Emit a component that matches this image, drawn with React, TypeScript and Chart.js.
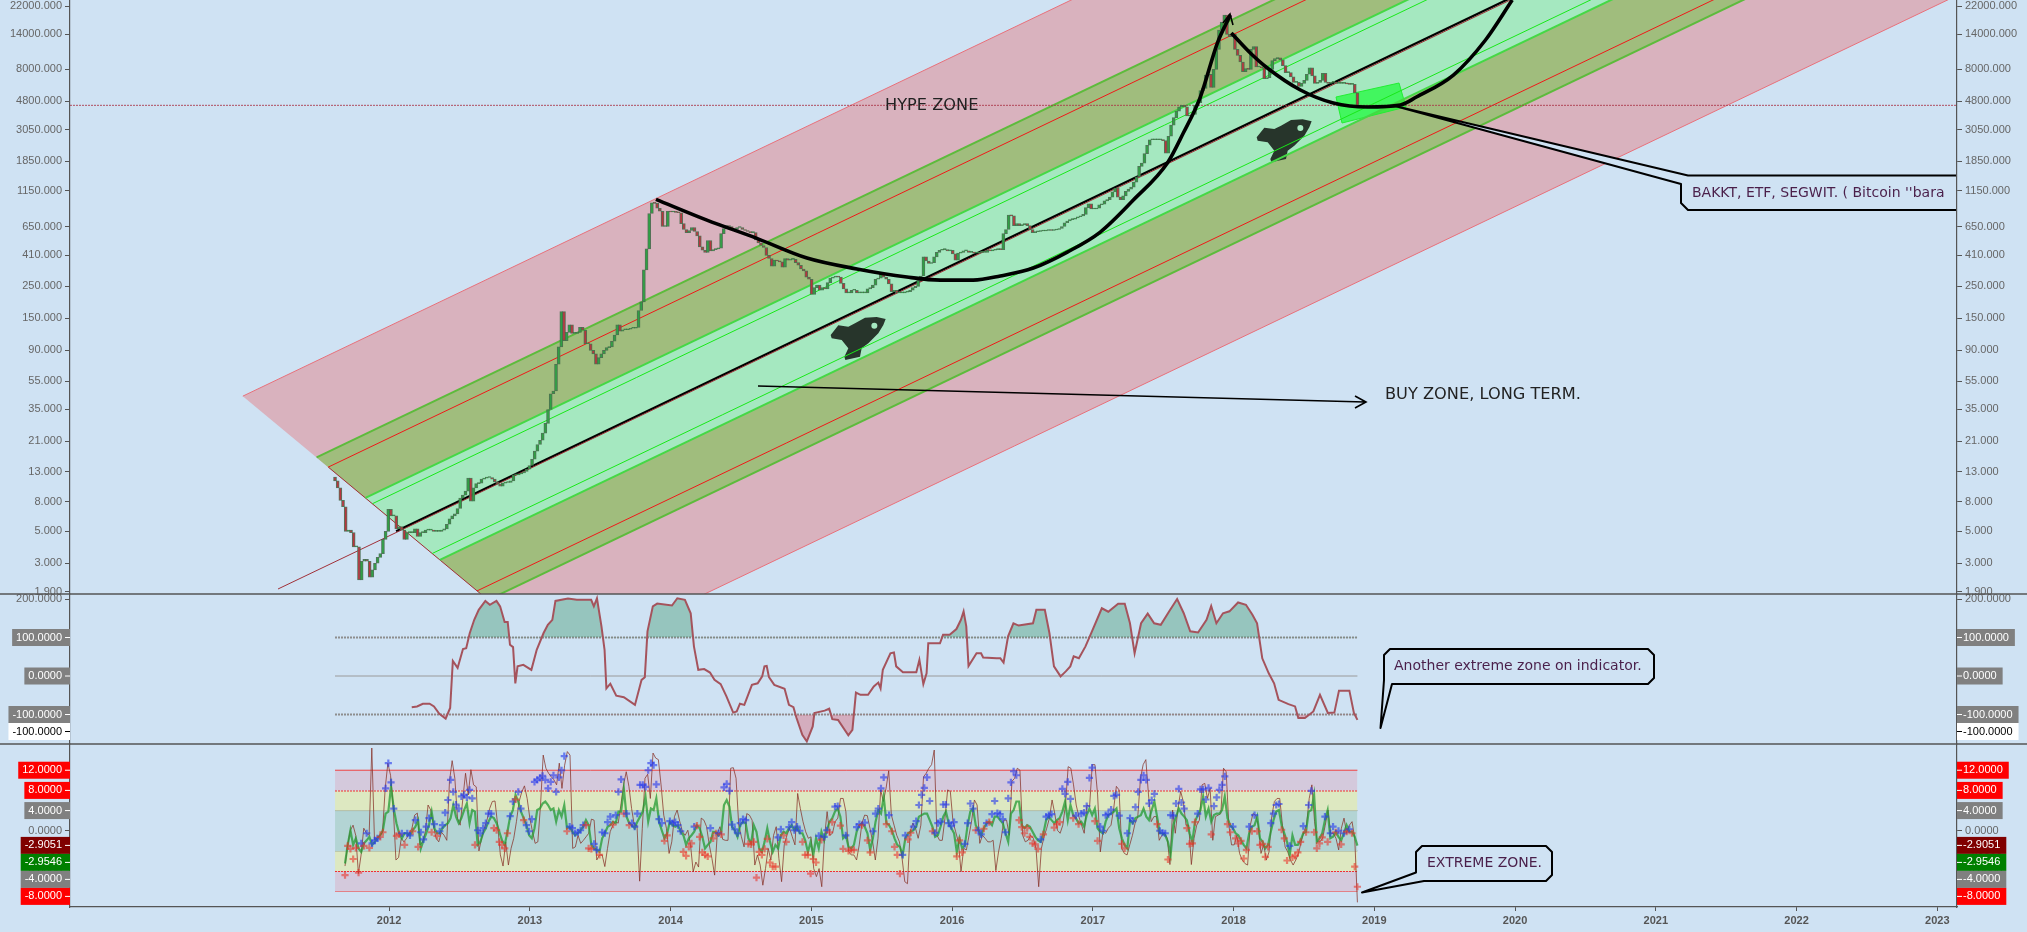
import React, { useEffect, useRef } from "react";
import { Chart, registerables } from "chart.js";
Chart.register(...registerables);

const YEAR_TICKS = [2012, 2013, 2014, 2015, 2016, 2017, 2018, 2019, 2020, 2021, 2022, 2023];
const PRICE_TICKS = [22000, 14000, 8000, 4800, 3050, 1850, 1150, 650, 410, 250, 150, 90, 55, 35, 21, 13, 8, 5, 3, 1.9];
const CCI_TICKS = [200, 100, 0, -100];
const OSC_TICKS = [12, 8, 4, 0, -4, -8];

const SERIES_END = 2018.88;
const CANDLE_START = 2011.616;
const OSC_START = 2011.687;
const FIRST_OPEN = 11.9;

const CLOSES = [
  11.2,10,8.2,7.4,5,5.1,4.9,3.9,3.9,2.3,3.1,3.2,3.1,2.4,2.7,3,3.3,3.5,4.4,5,7.1,6.4,6.4,5.2,5.4,5.1,4.4,4.9,4.9,4.9,5.2,4.6,4.9,4.9,5.1,5.1,5.1,5,5,5,5.1,5.2,5.6,6.1,6.4,6.6,7.2,8.5,8.9,9.5,11.7,8.1,10,10.7,10.8,11.5,11.7,11.8,11.8,11.5,11,10.6,10.3,10.8,10.9,10.9,11.2,12.3,12.3,12.5,12.7,13,13.5,14.3,15.8,18,20,21.4,24,28,
  35,45,47,72,95,167,105,120,135,118,118,120,130,124,100,100,90,85,72,80,85,90,94,95,104,115,135,122,125,125,126,128,128,130,170,195,325,455,800,950,940,870,830,650,650,830,820,820,815,810,680,620,590,610,640,600,560,470,445,430,520,440,450,455,460,580,630,660,650,620,620,640,640,620,610,600,590,590,525,500,480,465,410,390,345,380,375,370,340,390,380,385,385,365,350,330,320,290,280,220,245,255,235,245,240,265,285,290,295,290,262,240,225,225,235,235,225,225,225,225,240,245,255,280,285,305,290,280,260,230,235,225,225,225,228,230,235,245,250,275,295,400,375,360,365,400,430,445,450,450,440,445,420,380,425,430,440,440,430,430,425,425,430,430,430,445,440,445,450,455,450,580,620,780,770,660,680,660,670,680,660,620,590,
  598,600,605,605,610,615,610,615,620,630,650,690,710,725,730,745,760,770,790,880,935,860,860,870,920,930,980,1000,1040,1130,1200,1040,1000,1060,1140,1180,1220,1320,1440,1700,1790,2080,2380,2600,2600,2600,2600,2600,2560,2100,2750,3280,3700,4100,4400,4500,4400,3800,3800,3900,4500,4700,5700,5900,7300,7400,6000,8000,11000,15000,17000,19000,14000,13500,14000,11000,10000,9000,7700,8100,8000,11000,11500,8300,8300,8200,6900,7000,8000,9200,9500,9600,9300,8500,7600,7600,7100,6500,6500,6100,6400,6700,7400,8200,7200,6400,6500,6700,7500,6500,6400,6500,6500,6400,6400,6400,6400,6350,6300,6300,5500,4500,
];

const CCI_YEARS = [
  2012.161,2012.199,2012.24,2012.288,2012.319,2012.357,2012.402,2012.434,2012.453,2012.487,2012.525,2012.548,2012.573,2012.605,2012.637,2012.684,2012.716,2012.763,2012.789,2012.821,2012.843,2012.859,2012.881,2012.897,2012.913,2012.954,2013.011,2013.049,2013.097,2013.128,2013.16,2013.182,2013.271,2013.334,2013.436,2013.455,2013.477,2013.509,2013.531,2013.544,2013.572,2013.614,2013.668,2013.747,2013.794,2013.817,2013.836,2013.874,2013.905,2014.01,2014.048,2014.102,2014.143,2014.166,2014.197,2014.239,2014.28,2014.312,2014.356,2014.397,2014.445,2014.47,2014.493,2014.524,2014.578,2014.619,2014.651,2014.667,2014.683,2014.699,2014.737,2014.81,2014.841,2014.873,2014.895,2014.936,2014.968,2015.01,2015.022,2015.095,2015.127,2015.149,2015.19,2015.263,2015.292,2015.317,2015.349,2015.403,2015.444,2015.476,2015.492,2015.508,2015.562,2015.587,2015.603,2015.651,2015.746,2015.768,2015.796,2015.819,2015.831,2015.914,2015.936,2015.983,2016.031,2016.063,2016.082,2016.101,2016.117,2016.174,2016.206,2016.221,2016.317,
  2016.343,2016.366,2016.398,2016.436,2016.473,2016.575,2016.599,2016.659,2016.692,2016.724,2016.771,2016.808,2016.84,2016.864,2016.901,2016.948,2016.994,2017.064,2017.11,2017.18,2017.227,2017.264,2017.297,2017.343,2017.39,2017.436,2017.483,2017.543,2017.599,2017.646,2017.692,2017.748,2017.808,2017.841,2017.878,2017.925,2017.971,2018.032,2018.088,2018.134,2018.167,2018.204,2018.25,2018.288,2018.32,2018.39,2018.437,2018.46,2018.507,2018.567,2018.614,2018.67,2018.716,2018.749,2018.823,2018.855,2018.88,
];
const CCI_VALUES = [
  -81,-79,-72,-72,-79,-98,-111,-83,39,21,70,72,111,146,172,195,185,195,181,140,140,81,75,-19,25,29,16,68,111,133,146,195,201,198,198,181,202,129,68,-32,-20,-51,-55,-75,-10,-3,116,181,188,183,202,198,163,77,16,18,9,-10,-21,-53,-95,-92,-72,-75,-23,-19,-1,25,26,-3,-23,-33,-75,-81,-109,-153,-170,-131,-96,-90,-85,-112,-114,-154,-140,-43,-49,-49,-27,-17,-32,16,59,61,25,10,10,42,-21,7,85,85,107,107,122,146,168,129,26,59,59,48,46,
  46,35,103,137,131,137,172,172,111,25,-1,12,25,51,46,77,116,176,167,188,188,137,59,137,162,137,133,168,200,163,116,113,146,182,137,163,168,191,185,159,137,46,7,-19,-62,-73,-79,-109,-109,-92,-49,-96,-95,-38,-38,-96,-114,
];

const OSC_FAST = [
  -7,-2.8,.1,1.1,-.9,-8.5,-4.8,.5,-.5,-.9,16.4,-1.8,-1.4,-1,-.3,8.4,13.4,11,4.8,-5.8,-5.3,-1.5,-2.2,-1.5,-.5,.5,3.1,3.5,-2.8,-2.2,-.2,5.1,4.1,1.1,-1.5,-2.2,-.3,-.9,-1.9,9.8,13.9,10.4,2.5,1.1,6.4,11.4,7.1,12.1,9.1,8.7,-4,-1.5,.5,2.1,4.4,5.8,5.9,1.1,-4.8,-7,
  -2.2,-6.8,-3.5,-1.5,1.8,5.8,7.7,8.9,6.4,2.5,-.2,-2.5,-2.2,5.1,15,12.4,11.4,10.7,10.1,9.1,13.4,8.4,13,15.7,15,-3.5,-3.2,-.9,-2.5,-1.9,-1.2,-.5,2.3,2.1,-5.8,-4.8,-4.8,-7.1,-3.5,-.2,1.1,1.8,1.5,5.1,9.1,11.7,8.8,4.4,1.1,1.1,-10,.5,10.4,11.2,6.4,15.4,14.4,14.1,9.1,3.1,.5,-4.5,-2.2,2.8,4.1,1.8,
  -.2,-.9,.1,-2.8,-8.1,-6.2,-7.2,2.5,2.1,.8,-2.8,-5.5,-8.8,-.5,.8,-1.7,-1.9,-1.9,12.4,12.5,10.4,1.1,-1.2,-3.2,3.4,3.1,2.1,-6.8,-4.8,-6.8,-10.8,-7.5,-3.5,-5.8,-.9,.8,-5.5,-10.1,-2.8,-.9,.5,-1.2,-2.8,7.4,4.4,1.8,-.2,-1.5,-1.2,-7.5,-9.1,-7.5,-11.1,-1.5,3.8,-.9,-.5,1.8,2.5,6.4,6.4,3.8,-4.1,-4.8,
  -4.8,-5.8,-2.8,1.5,3.1,3,.5,-2.2,-5.8,-1.5,8.1,5.8,8.4,11.9,3.1,1.1,-.9,-2.2,-5.5,-10.1,-10.5,-.2,1.5,.5,-1.5,1.1,10.7,11.4,12.4,13.1,16,-.9,-1.9,-1.9,2.5,8.1,7.8,1.8,-.2,-2.2,-8.1,-3.5,-3.8,-.9,2.1,6.1,5.1,-2.5,-.9,-1.5,-2.2,-2.2,-1.9,-7.9,-4.2,-1.5,2.1,2.1,-.9,9.8,10.4,12.4,
  12,-.9,-2.2,-1.9,-.9,-1.5,-3.5,-11.1,-3.5,-1.2,.5,2.5,6.1,3.4,.1,-.5,1.1,5.1,12.7,12.4,9.1,5.1,2.8,1.1,-.5,5.1,4.8,13.1,13.1,7.1,-4.2,-.2,-.5,.5,1.1,4.4,8.8,8.1,-3.5,-4.5,-4.8,-2.8,-.9,1.5,2.8,10.4,13.1,14.1,7.1,1.8,2.8,2.8,-1.9,-.9,-.5,-1.5,-6.7,4.1,-.5,4.4,7.8,5.8,1.1,
  1.1,-6.7,-1.5,1.1,2.1,9.1,9.4,6.4,8.4,-1.9,2.8,3.1,3.4,12.4,11.7,1.1,-2.8,-2.8,-.9,-4.5,-5.8,-6.5,-6.8,1.1,3.4,3.1,1.1,-4.5,-2.8,-5.8,-4.2,2.8,5.8,6.4,6.4,1.1,-3.2,-4.2,-5.8,-6.8,-5.8,-4.5,-2.2,-.2,1.1,6.4,9.1,1.8,-2.2,-2.2,-1.5,1.1,4.1,-.5,-.5,-1.5,-3.8,.5,2.5,-.5,1.1,1.8,-1.5,-14.2,
];

const OSC_SLOW = [
  -6.5,-2.8,.1,-2.8,-1.5,-3.5,-4.2,-2.5,-1.9,-1.2,-2.8,-2.2,-1.5,-.9,.1,3.4,3.8,8.8,4.4,1.5,-.5,-1.5,-.5,-.5,-.9,.1,.8,2.1,-3.5,-1.9,-.5,1.1,3.8,.5,-.5,-.5,.5,1.1,1.5,2.5,5.1,2.8,1.5,2.5,4.1,5.4,1.5,4.1,3.8,-2.8,-2.2,-.5,.5,1.8,2.8,2.5,1.5,-.2,-1.9,-2.8,
  -.2,2.8,4.1,7.1,5.8,3.8,2.5,1.1,-.9,-1.5,.5,4.1,4.4,5.4,5.8,5.1,4.1,4.4,1.8,4.1,2.8,5.1,.5,.8,-.2,-.9,-.5,.1,.8,2.1,1.1,-2.8,-3.5,-3.8,-4.2,-1.5,-.5,.8,1.1,1.8,1.5,3.8,3.8,8.4,2.8,1.5,1.1,.5,1.8,2.8,3.8,6.8,1.8,4.4,4.1,6.4,1.8,.1,-1.5,-.5,1.8,1.1,.8,
  1.1,-.2,-.9,-2.8,-1.5,-.9,-.2,1.1,.5,-1.2,-3.5,-2.8,-2.2,-.2,-.3,-.9,-.2,5.1,6.1,4.8,.8,.1,-1.2,1.1,1.8,1.5,-1.5,-2.5,1.1,-.2,-3.5,-4.2,-2.2,.5,-2.2,-4.2,-2.8,-3.5,-.9,-.2,-.5,.5,1.1,.1,.8,-.5,-.5,-1.9,-4.2,-2.2,-4.8,-1.5,-3.5,-.2,-1.9,.1,1.8,2.5,3.8,4.4,2.8,-1.5,-.9,
  -3.2,-3.5,-2.8,-.2,1.1,1.5,.8,-.5,-3.8,-1.5,1.8,4.1,3.4,6.8,1.5,1.1,.1,-1.5,-2.8,-3.2,-4.8,-1.5,-.5,-.2,.1,.8,2.8,3.1,3.4,3.4,2.1,.8,-1.2,-.9,.8,2.8,3.8,1.5,.5,-.5,-4.2,-1.5,-3.5,-2.8,1.1,3.8,4.4,1.1,.1,-.9,.5,1.5,1.8,1.1,2.8,2.8,2.1,1.5,-.5,-2.2,3.4,4.1,
  5.8,5.8,1.1,.5,1.1,.8,-.2,-1.2,-1.9,-2.2,-.5,2.1,2.8,2.1,1.5,2.1,2.5,3.8,5.8,2.1,5.1,3.1,2.5,1.5,1.8,.8,3.1,4.4,3.1,4.4,.5,-.2,-.5,1.8,3.1,3.4,3.8,4.4,.5,-1.5,-2.8,-3.5,2.1,1.5,2.5,2.8,3.1,4.4,2.8,2.1,4.1,5.8,2.8,-.5,-.5,-.9,-2.2,-4.8,1.1,2.8,4.4,3.4,2.8,
  2.1,-.5,-2.2,1.8,3.1,4.1,6.8,2.8,4.4,1.8,3.1,3.4,3.4,4.1,6.8,2.5,1.1,.5,-.5,-.9,-1.9,-2.8,-3.5,-.5,.8,1.1,2.8,-1.5,-2.2,-3.5,-2.8,-.2,2.1,3.8,4.1,1.1,-.5,-2.2,-4.8,-.9,-2.8,-2.8,-1.9,-.5,-.2,3.8,4.1,7.1,-2.2,-1.5,-.5,2.1,4.1,-1.5,-1.2,-.2,-1.2,-1.9,-.5,1.1,-.2,-.2,-1.2,-2.95,
];

const OSC_SIGNAL = [
  -8.8,-3,-3.6,-5.6,-3.4,-8.3,-2.5,-3,-.5,-3.4,-2.5,-1.9,-1.5,-1.2,-.3,8.4,13.4,9.6,4.4,-1,-.7,-.5,-2.8,-.5,-.9,-.1,2.1,-3.2,-.3,-1.7,.8,2.5,-.3,1.3,-1,-.1,1.1,3.6,6.1,10.1,7.7,5.2,4.4,6.8,7.1,6.6,8.1,6.4,-2.8,.1,-.5,.5,1.5,3.4,3.4,.5,.1,-2.2,-2.8,-3.5,
  -.5,2.9,5.8,6.2,7.7,4.4,2.1,1.1,-.1,2.3,9.7,10.1,10.5,10.9,10.1,8.4,9.7,11,7.7,10.6,12,14.8,-.1,.8,.5,-.5,-.3,.1,1.1,1.1,-3.5,-3.6,-2.6,-3.8,-4.8,-.3,-.5,1.7,2.8,1.2,3.1,7.7,10.2,3.4,3.4,1.1,1.5,.8,3.4,9.1,9.1,8.7,12,13.4,13,9.2,2.3,1.5,-2,-.9,1.9,1.5,1.7,
  1.1,-.1,-4.2,-5,-3.2,-2.5,.8,1,-1.2,-4.3,-4.8,-5.1,.5,-1.5,-.5,-.5,-.7,8.6,9.3,7.9,1.2,.3,-.5,1.5,2.3,2.1,-2.6,-2.7,-2.2,-9.3,-4.2,-4.8,-3.6,-1.6,-6.3,-7.1,-7.1,-1.3,.3,-.9,-2.2,.7,1.7,.1,.8,0,-2.2,-4.8,-4.8,-8.5,-5.6,-6.3,-1,-1.8,-1.2,.1,-.3,1.7,4.8,4.9,1,-3.6,-.9,
  -4,-3.8,-3.8,.7,1.3,1.1,1.6,-1.9,-4.3,-.1,3.4,4.4,8.4,10.6,1.3,3.1,-.1,-3.2,-4.8,-8.5,-4.8,-.9,-1.7,-.4,.8,1.9,5.1,7.1,8.5,10.6,5.9,-.1,-.4,1.5,1.8,5.2,5.2,1.5,.9,1.7,-5.1,-1.9,-4.3,-2.6,1.5,5.4,4.4,.1,.1,-.7,.4,1.5,1.7,3.3,5.9,3.5,3.3,2.3,-.3,6.4,9.6,11.8,
  11,2.1,.7,-.5,.5,-1.2,-2.5,-2.7,-3.6,-1.7,-.7,2.8,3.1,3.3,.6,1.3,1.7,8.3,7.3,9.7,6.3,2.5,3,1.3,3.4,3.6,4.9,10.5,12.5,1.9,-2,.8,0,3.1,3.3,4.2,6.9,7.1,3,-2.6,-3.5,-.5,2.5,1.9,4.7,7.7,10.1,11,10.1,5.4,6.1,7.3,1.3,0,-.4,-.5,-5.7,3.1,3,5.4,8.3,5.6,4.4,
  .5,-2.6,-2.5,1.7,3.4,8.2,8.2,6.2,8.5,-.7,4.9,6.6,8.1,9.1,10.8,1.3,-.3,.8,-1.5,-2.5,-2,-5.5,-3.8,.8,-.1,3.1,-.1,-2.8,-2.6,-5.2,-3.2,1.5,3.4,5.1,5.3,.2,-1.5,-5.9,-3,-5.3,-5,-4.3,-2.2,.9,-.3,5.1,7.9,-.3,-3.5,-2.5,-1.3,2.8,-2.2,-.5,.8,-.3,0,-2.7,-.5,-.2,.3,-.5,-7.1,-11.1,
];

const EDGE_OUTER_UP = [{ x: 2010.961, y: 43.3 }, { x: 2017.144, y: 33330 }];
const EDGE_GREEN_UP = [{ x: 2011.485, y: 16.28 }, { x: 2018.58, y: 33330 }];
const EDGE_RED_UP = [{ x: 2011.568, y: 13.94 }, { x: 2018.807, y: 33330 }];
const EDGE_MINT_UP = [{ x: 2011.832, y: 8.53 }, { x: 2019.53, y: 33330 }];
const EDGE_THIN_UP = [{ x: 2011.882, y: 7.77 }, { x: 2019.667, y: 33330 }];
const EDGE_BASE = [{ x: 2011.211, y: 1.99 }, { x: 2020.264, y: 33330 }];
const EDGE_THIN_DOWN = [{ x: 2012.307, y: 3.51 }, { x: 2020.833, y: 33330 }];
const EDGE_MINT_DOWN = [{ x: 2012.361, y: 3.17 }, { x: 2020.979, y: 33330 }];
const EDGE_RED_DOWN = [{ x: 2012.625, y: 1.93 }, { x: 2021.704, y: 33330 }];
const EDGE_GREEN_DOWN = [{ x: 2012.703, y: 1.67 }, { x: 2021.918, y: 33330 }];
const EDGE_OUTER_DOWN = [{ x: 2013.233, y: 0.621 }, { x: 2023.37, y: 33330 }];
const TREND_LINE = [{ x: 2012.05, y: 5.01 }, { x: 2020.236, y: 33330 }];
const LEFT_BOUNDARY = [{ x: 2011.568, y: 13.94 }, { x: 2012.703, y: 1.67 }];
const PRICE_LEVEL = 4504;
const AXIS_YEAR_MIN = 2009.733;
const AXIS_YEAR_MAX = 2023.14;

const CUP_ONE = [
  { x: 2013.896, y: 1003 }, { x: 2014.258, y: 720 }, { x: 2014.613, y: 538 }, { x: 2014.969, y: 393 }, { x: 2015.324, y: 330 }, { x: 2015.679, y: 290 },
  { x: 2015.916, y: 276 }, { x: 2016.151, y: 276 }, { x: 2016.343, y: 295 }, { x: 2016.577, y: 335 }, { x: 2016.819, y: 432 }, { x: 2017.053, y: 595 },
  { x: 2017.288, y: 992 }, { x: 2017.53, y: 1792 }, { x: 2017.643, y: 2892 }, { x: 2017.764, y: 5141 }, { x: 2017.885, y: 12180 }, { x: 2017.977, y: 19060 },
];
const CUP_TWO = [
  { x: 2017.984, y: 14295 }, { x: 2018.119, y: 10384 }, { x: 2018.24, y: 8174 }, { x: 2018.475, y: 5750 }, { x: 2018.709, y: 4672 }, { x: 2018.951, y: 4384 },
  { x: 2019.185, y: 4525 }, { x: 2019.299, y: 5141 }, { x: 2019.562, y: 7306 }, { x: 2019.79, y: 12785 }, { x: 2019.98, y: 24213 },
];

const CCI_BADGES = [
  { value: 100, text: "100.0000", bg: "#808080", fg: "#fff" },
  { value: 0, text: "0.0000", bg: "#808080", fg: "#fff" },
  { value: -100, text: "-100.0000", bg: "#808080", fg: "#fff" },
  { value: -100, text: "-100.0000", bg: "#ffffff", fg: "#000" },
];
const OSC_BADGES = [
  { value: 12, text: "12.0000", bg: "#ff0000", fg: "#fff" },
  { value: 8, text: "8.0000", bg: "#ff0000", fg: "#fff" },
  { value: 4, text: "4.0000", bg: "#808080", fg: "#fff" },
  { value: -2.9051, text: "-2.9051", bg: "#800000", fg: "#fff" },
  { value: -2.9546, text: "-2.9546", bg: "#008000", fg: "#fff" },
  { value: -4, text: "-4.0000", bg: "#808080", fg: "#fff" },
  { value: -8, text: "-8.0000", bg: "#ff0000", fg: "#fff" },
];

const ROCKET_OUTLINE = [[167,7],[140,1],[105,3],[75,20],[55,30],[25,26],[2,55],[5,65],[35,70],[55,95],[43,120],[46,130],[90,120],[95,95],[115,80],[145,50],[160,25]];

const BG = "#CFE2F3";
const AXIS = "#555555";
const NOTE = "#4A1F4A";
const FONT = "'Liberation Sans', Arial, sans-serif";
const NOTE_FONT = "'DejaVu Sans', Verdana, sans-serif";

function spaced(values: number[], start: number) {
  const step = (SERIES_END - start) / (values.length - 1);
  return values.map((y, i) => ({ x: start + i * step, y }));
}

function drawRocket(ctx: CanvasRenderingContext2D, left: number, top: number) {
  ctx.save();
  ctx.translate(left, top);
  ctx.scale(1 / 3, 1 / 3);
  ctx.beginPath();
  ROCKET_OUTLINE.forEach(([x, y], i) => (i ? ctx.lineTo(x, y) : ctx.moveTo(x, y)));
  ctx.closePath();
  ctx.fillStyle = "#27352B";
  ctx.fill();
  ctx.beginPath();
  ctx.arc(133, 27, 9, 0, Math.PI * 2);
  ctx.fillStyle = "#A5E8C0";
  ctx.fill();
  ctx.restore();
}

function callout(ctx: CanvasRenderingContext2D, pts: number[][], text: string, tx: number, ty: number) {
  ctx.save();
  ctx.beginPath();
  pts.forEach(([x, y], i) => (i ? ctx.lineTo(x, y) : ctx.moveTo(x, y)));
  ctx.closePath();
  ctx.fillStyle = BG;
  ctx.fill();
  ctx.lineWidth = 2;
  ctx.strokeStyle = "#000";
  ctx.lineJoin = "round";
  ctx.stroke();
  ctx.fillStyle = NOTE;
  ctx.font = `14px ${NOTE_FONT}`;
  ctx.textAlign = "left";
  ctx.textBaseline = "middle";
  ctx.fillText(text, tx, ty);
  ctx.restore();
}

const channelPlugin = {
  id: "channelFills",
  beforeDraw(chart: any) {
    const { ctx, width, height } = chart;
    ctx.save();
    ctx.fillStyle = BG;
    ctx.fillRect(0, 0, width, height);
    ctx.restore();
  },
  beforeDatasetsDraw(chart: any) {
    const { ctx } = chart;
    const sx = chart.scales.x;
    const sy = chart.scales.price;
    const band = (a: any[], b: any[], color: string) => {
      const p = (q: any) => [sx.getPixelForValue(q.x), sy.getPixelForValue(q.y)];
      const [p0, p1, p2, p3] = [p(a[0]), p(a[1]), p(b[1]), p(b[0])];
      ctx.beginPath();
      ctx.moveTo(p0[0], p0[1]);
      ctx.lineTo(p1[0], p1[1]);
      ctx.lineTo(p2[0], p2[1]);
      ctx.lineTo(p3[0], p3[1]);
      ctx.closePath();
      ctx.fillStyle = color;
      ctx.fill();
    };
    ctx.save();
    ctx.beginPath();
    ctx.rect(sx.left, sy.top, sx.right - sx.left, sy.bottom - sy.top);
    ctx.clip();
    band(EDGE_OUTER_UP, EDGE_OUTER_DOWN, "#D9B2BE");
    band(EDGE_GREEN_UP, EDGE_GREEN_DOWN, "#A0BD7D");
    band(EDGE_MINT_UP, EDGE_MINT_DOWN, "#A5E8C0");
    drawRocket(ctx, 830, 316.7);
    drawRocket(ctx, 1256, 119);
    ctx.beginPath();
    [[1336, 97], [1399, 83], [1406, 107], [1342, 123]].forEach(([x, y], i) => (i ? ctx.lineTo(x, y) : ctx.moveTo(x, y)));
    ctx.closePath();
    ctx.fillStyle = "rgba(0,255,30,0.6)";
    ctx.fill();
    ctx.strokeStyle = "#22EE33";
    ctx.lineWidth = 1;
    ctx.stroke();
    ctx.restore();
  },
  afterDraw(chart: any) {
    const { ctx, width } = chart;
    ctx.save();
    ctx.fillStyle = "#222";
    ctx.font = `16.2px ${NOTE_FONT}`;
    ctx.textBaseline = "middle";
    ctx.fillText("HYPE ZONE", 885, 106);
    ctx.fillText("BUY ZONE, LONG TERM.", 1385, 395);
    ctx.strokeStyle = "#000";
    ctx.lineWidth = 1.6;
    ctx.beginPath();
    ctx.moveTo(758, 386);
    ctx.lineTo(1365, 402);
    ctx.moveTo(1355, 396);
    ctx.lineTo(1366, 402);
    ctx.lineTo(1355, 408);
    ctx.moveTo(1223, 23);
    ctx.lineTo(1230, 14);
    ctx.lineTo(1233, 25);
    ctx.stroke();

    ctx.save();
    ctx.beginPath();
    ctx.rect(1300, 0, 656, 594);
    ctx.clip();
    callout(
      ctx,
      [[1395, 106], [1688, 175.5], [1990, 175.5], [1990, 210], [1688, 210], [1681, 203], [1681, 184]],
      "BAKKT, ETF, SEGWIT. ( Bitcoin ''bara",
      1692,
      193,
    );
    ctx.restore();
    callout(
      ctx,
      [[1384, 655], [1390, 649], [1648, 649], [1654, 655], [1654, 678], [1648, 684], [1392, 684], [1380.5, 728], [1384, 680]],
      "Another extreme zone on indicator.",
      1394,
      666,
    );
    callout(
      ctx,
      [[1416, 852], [1422, 846], [1546, 846], [1552, 852], [1552, 875], [1546, 881], [1424, 881], [1362, 892.5], [1416, 872.5]],
      "EXTREME ZONE.",
      1427,
      863,
    );

    ctx.strokeStyle = AXIS;
    ctx.lineWidth = 1.5;
    [chart.scales.price.bottom, chart.scales.cci.bottom].forEach((y: number) => {
      ctx.beginPath();
      ctx.moveTo(0, y);
      ctx.lineTo(width, y);
      ctx.stroke();
    });

    ctx.font = `11px ${FONT}`;
    ctx.textBaseline = "middle";
    const flags = (scale: any, list: any[]) => {
      let last = -1e9;
      list.forEach((b) => {
        const y = Math.max(scale.getPixelForValue(b.value), last + 17);
        last = y;
        const w = ctx.measureText(b.text).width + 12;
        ctx.fillStyle = b.bg;
        ctx.fillRect(70 - w, y - 8.5, w, 17);
        ctx.fillRect(1957, y - 8.5, w, 17);
        ctx.fillStyle = b.fg;
        ctx.textAlign = "right";
        ctx.fillText(b.text, 62, y);
        ctx.textAlign = "left";
        ctx.fillText(b.text, 1963, y);
        ctx.fillRect(65, y - 0.5, 5, 1);
        ctx.fillRect(1957, y - 0.5, 5, 1);
      });
    };
    flags(chart.scales.cci, CCI_BADGES);
    flags(chart.scales.osc, OSC_BADGES);
    ctx.restore();
  },
};

function levelLine(yAxisID: string, value: number, color: string, width: number, dash: number[], below?: { target: number; color: string }) {
  return {
    type: "line",
    yAxisID,
    data: [{ x: CANDLE_START, y: value }, { x: SERIES_END, y: value }],
    borderColor: color,
    borderWidth: width,
    borderDash: dash,
    pointRadius: 0,
    fill: below ? { target: { value: below.target }, above: below.color, below: below.color } : false,
    order: 50,
  };
}

function edgeLine(data: any[], color: string, width: number) {
  return { type: "line", yAxisID: "price", data, borderColor: color, borderWidth: width, pointRadius: 0, fill: false, order: 40 };
}

function noPadding(s: any) {
  s.paddingTop = 0;
  s.paddingBottom = 0;
  s.paddingLeft = 0;
  s.paddingRight = 0;
}

function valueAxis(position: string, stackWeight: number, weight: number, type: string, min: number, max: number, values: number[], decimals: number) {
  return {
    type,
    position,
    stack: position,
    stackWeight,
    weight,
    min,
    max,
    afterFit: (s: any) => { s.width = 70; noPadding(s); },
    afterBuildTicks: (s: any) => { s.ticks = values.map((value) => ({ value })); },
    border: { color: AXIS, width: 1.2 },
    grid: { drawOnChartArea: false, color: AXIS, tickLength: 5 },
    ticks: {
      autoSkip: false,
      color: "#666",
      padding: 3,
      font: { family: "Liberation Sans", size: 11 },
      callback: (v: number) => Number(v).toFixed(decimals),
    },
  };
}

export default function App() {
  const ref = useRef<HTMLCanvasElement | null>(null);
  useEffect(() => {
    if (!ref.current) return;
    const opens = CLOSES.map((_, i) => (i ? CLOSES[i - 1] : FIRST_OPEN));
    const candleStep = (SERIES_END - CANDLE_START) / (CLOSES.length - 1);
    const cci = CCI_VALUES.map((y, i) => ({ x: CCI_YEARS[i], y }));
    const datasets: any[] = [
      edgeLine(EDGE_OUTER_UP, "#E8707A", 1),
      edgeLine(EDGE_OUTER_DOWN, "#E8707A", 1),
      edgeLine(EDGE_GREEN_UP, "#5DBB3C", 2),
      edgeLine(EDGE_GREEN_DOWN, "#5DBB3C", 2),
      edgeLine(EDGE_RED_UP, "#F01818", 1),
      edgeLine(EDGE_RED_DOWN, "#F01818", 1),
      edgeLine(EDGE_MINT_UP, "#45D845", 2),
      edgeLine(EDGE_MINT_DOWN, "#45D845", 2),
      edgeLine(EDGE_THIN_UP, "#18E818", 1),
      edgeLine(EDGE_THIN_DOWN, "#18E818", 1),
      edgeLine(EDGE_BASE, "#A03038", 1),
      edgeLine(LEFT_BOUNDARY, "#A03038", 1),
      {
        type: "line",
        yAxisID: "price",
        data: [{ x: AXIS_YEAR_MIN, y: PRICE_LEVEL }, { x: AXIS_YEAR_MAX, y: PRICE_LEVEL }],
        borderColor: "rgba(170,50,70,0.85)",
        borderWidth: 1,
        borderDash: [2, 1],
        pointRadius: 0,
        fill: false,
        order: 35,
      },
      {
        type: "bar",
        yAxisID: "price",
        data: CLOSES.map((c, i) => ({ x: CANDLE_START + i * candleStep, y: [opens[i], c] })),
        backgroundColor: CLOSES.map((c, i) => (c >= opens[i] ? "#2FA044" : "#B8343E")),
        borderColor: "rgba(70,105,75,0.9)",
        borderWidth: 1,
        borderSkipped: false,
        barThickness: 3,
        grouped: false,
        minBarLength: 1,
        order: 20,
      },
      edgeLine(TREND_LINE, "#000", 2.2),
      { type: "line", yAxisID: "price", data: CUP_ONE, borderColor: "#000", borderWidth: 3.6, pointRadius: 0, cubicInterpolationMode: "monotone", fill: false, order: 5 },
      { type: "line", yAxisID: "price", data: CUP_TWO, borderColor: "#000", borderWidth: 3.6, pointRadius: 0, cubicInterpolationMode: "monotone", fill: false, order: 5 },

      levelLine("cci", 100, "#8E8E8E", 2, [2, 1]),
      levelLine("cci", 0, "#9A9A9A", 1, []),
      levelLine("cci", -100, "#8E8E8E", 2, [2, 1]),
      {
        type: "line",
        yAxisID: "cci",
        data: cci,
        borderColor: "rgba(0,0,0,0)",
        borderWidth: 0,
        pointRadius: 0,
        fill: { target: { value: 100 }, above: "rgba(20,130,70,0.3)", below: "rgba(0,0,0,0)" },
        order: 30,
      },
      {
        type: "line",
        yAxisID: "cci",
        data: cci,
        borderColor: "#A5535C",
        borderWidth: 2,
        pointRadius: 0,
        fill: { target: { value: -100 }, above: "rgba(0,0,0,0)", below: "rgba(225,50,70,0.3)" },
        order: 10,
      },

      levelLine("osc", 12, "#F04040", 1, [], { target: 8, color: "#D4C9DC" }),
      levelLine("osc", 8, "#F03030", 2, [2, 1], { target: 4, color: "#DDE8C1" }),
      levelLine("osc", 4, "#8F9A8C", 1, [], { target: -4, color: "#B3D4D4" }),
      levelLine("osc", -4, "#8F9A8C", 1, [], { target: -8, color: "#DDE8C1" }),
      levelLine("osc", -8, "#F03030", 2, [2, 1], { target: -12, color: "#D4C9DC" }),
      levelLine("osc", -12, "#F04040", 1, []),
      { type: "line", yAxisID: "osc", data: spaced(OSC_FAST, OSC_START), borderColor: "rgba(135,50,40,0.75)", borderWidth: 1, pointRadius: 0, fill: false, order: 12 },
      { type: "line", yAxisID: "osc", data: spaced(OSC_SLOW, OSC_START), borderColor: "rgba(35,155,50,0.75)", borderWidth: 2.2, pointRadius: 0, fill: false, order: 11 },
      {
        type: "line",
        yAxisID: "osc",
        data: spaced(OSC_SIGNAL, OSC_START),
        showLine: false,
        pointStyle: "cross",
        pointRadius: 3.6,
        pointBorderWidth: 2.2,
        pointBorderColor: (c: any) => {
          const j = Math.round((c.dataIndex * (OSC_SLOW.length - 1)) / (OSC_SIGNAL.length - 1));
          return OSC_SIGNAL[c.dataIndex] >= OSC_SLOW[j] ? "rgba(40,60,235,0.62)" : "rgba(235,50,40,0.58)";
        },
        fill: false,
        order: 9,
      },
    ];
    const chart = new Chart(ref.current, {
      type: "line",
      data: { datasets },
      plugins: [channelPlugin],
      options: {
        animation: false,
        responsive: false,
        devicePixelRatio: 1,
        layout: { padding: 0, autoPadding: false },
        plugins: { legend: { display: false }, tooltip: { enabled: false } },
        scales: {
          x: {
            type: "linear",
            position: "bottom",
            offset: false,
            min: AXIS_YEAR_MIN,
            max: AXIS_YEAR_MAX,
            afterFit: (s: any) => { s.height = 25; noPadding(s); },
            afterBuildTicks: (s: any) => { s.ticks = YEAR_TICKS.map((value) => ({ value })); },
            border: { color: AXIS, width: 1.2 },
            grid: { drawOnChartArea: false, color: AXIS, tickLength: 4, offset: false },
            ticks: {
              autoSkip: false,
              maxRotation: 0,
              color: "#555",
              padding: 3,
              font: { family: "Liberation Sans", size: 11, weight: "bold" },
              callback: (v: number) => String(v),
            },
          },
          price: valueAxis("left", 594, 3, "logarithmic", 1.837, 24213, PRICE_TICKS, 3),
          cci: valueAxis("left", 150, 2, "linear", -176.6, 213, CCI_TICKS, 4),
          osc: valueAxis("left", 163, 1, "linear", -15.12, 17.2, OSC_TICKS, 4),
          priceR: valueAxis("right", 594, 1, "logarithmic", 1.837, 24213, PRICE_TICKS, 3),
          cciR: valueAxis("right", 150, 2, "linear", -176.6, 213, CCI_TICKS, 4),
          oscR: valueAxis("right", 163, 3, "linear", -15.12, 17.2, OSC_TICKS, 4),
        },
      } as any,
    } as any);
    return () => chart.destroy();
  }, []);
  return (
    <div style={{ position: "fixed", left: 0, top: 0, width: 2027, height: 932, background: BG }}>
      <canvas ref={ref} width={2027} height={932} style={{ display: "block", width: 2027, height: 932 }} />
    </div>
  );
}
